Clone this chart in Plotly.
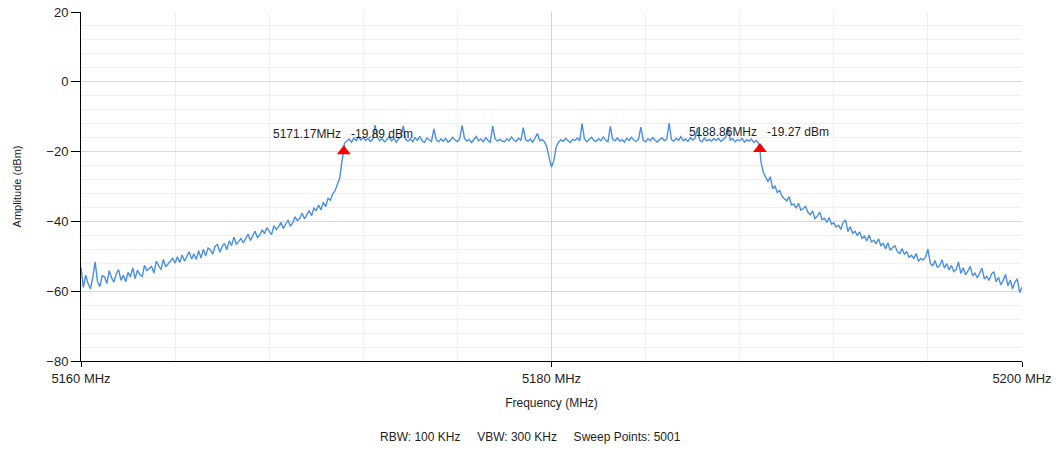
import plotly.graph_objects as go

# ---------------- data ----------------
start_mhz = 5160.0
step_mhz = 0.1

# amplitude (dBm) sampled every 0.1 MHz from 5160.0 to 5200.0
left_skirt = [
    -53.2, -58.9, -55.4, -57.8, -59.3, -56.1, -51.6, -57.2, -58.7, -55.6,   # 5160
    -55.9, -57.8, -54.1, -56.2, -57.4, -55.0, -53.8, -56.9, -55.4, -57.3,   # 5161
    -54.6, -55.9, -53.3, -56.4, -54.0, -55.2, -55.8, -52.6, -54.1, -53.5,   # 5162
    -52.9, -54.8, -51.4, -52.7, -53.8, -50.9, -53.0, -52.2, -51.3, -50.6,   # 5163
    -52.0, -50.1, -51.8, -49.6, -51.4, -50.2, -48.7, -50.8, -49.3, -50.9,   # 5164
    -48.4, -50.5, -48.0, -49.9, -47.6, -48.2, -49.4, -47.1, -46.6, -48.8,   # 5165
    -47.2, -46.3, -48.1, -45.6, -46.9, -44.5, -46.5, -45.8, -44.9, -46.2,   # 5166
    -45.1, -43.6, -45.5, -44.2, -42.8, -44.6, -43.9, -42.4, -43.5, -41.8,   # 5167
    -42.7, -43.8, -41.2, -42.4, -41.5, -40.3, -42.0, -40.9, -39.6, -41.4,   # 5168
    -40.4, -38.7, -39.8, -39.1, -37.6, -39.3, -38.2, -36.9, -38.4, -36.2,   # 5169
    -36.9, -35.3, -36.7, -34.5, -35.8, -33.4, -33.9, -32.1, -31.2, -29.6,   # 5170
    -27.5, -22.4,                                                           # 5171.0-5171.1
]
flat_top = [
    -17.6, -17.0, -16.4, -17.3, -16.1, -16.9, -15.8, -16.7,                 # 5171.2-5171.9
    -15.9, -16.8, -16.2, -17.1, -16.5, -12.4, -15.9, -16.9, -16.3, -17.2,   # 5172
    -16.6, -15.7, -16.9, -16.2, -17.3, -16.4, -15.8, -12.6, -16.5, -17.0,   # 5173
    -16.3, -17.2, -16.0, -16.8, -15.6, -16.9, -17.4, -16.1, -16.7, -17.1,   # 5174
    -13.5, -16.6, -17.2, -16.4, -17.0, -16.2, -17.3, -16.8, -15.9, -16.7,   # 5175
    -17.1, -16.3, -12.5, -16.2, -17.0, -16.5, -17.4, -16.6, -15.7, -16.9,   # 5176
    -16.4, -17.2, -16.0, -16.8, -17.3, -12.7, -16.3, -17.0, -16.5, -16.9,   # 5177
    -17.2, -16.3, -16.9, -15.8, -16.7, -17.1, -16.2, -16.8, -13.1, -16.6,   # 5178
    -17.0, -16.4, -17.3, -16.1, -14.8, -16.9, -16.5, -17.2, -18.6, -21.8,   # 5179
    -24.4, -22.6, -18.7, -17.3, -16.6, -17.1, -16.2, -16.9, -17.4, -16.5,   # 5180
    -16.8, -16.1, -16.9, -12.0, -16.4, -17.2, -16.6, -15.9, -16.8, -17.1,   # 5181
    -16.3, -16.9, -15.8, -16.7, -17.2, -12.8, -16.5, -16.9, -16.1, -17.0,   # 5182
    -16.6, -17.3, -16.2, -16.8, -15.9, -16.7, -17.1, -16.4, -13.0, -16.8,   # 5183
    -17.2, -16.3, -16.9, -16.0, -16.7, -17.3, -16.5, -16.1, -16.9, -16.4,   # 5184
    -11.8, -16.6, -17.0, -16.2, -16.8, -15.7, -16.9, -16.4, -17.1, -16.0,   # 5185
    -16.7, -16.2, -13.4, -16.8, -17.2, -16.1, -16.9, -16.5, -17.0, -16.3,   # 5186
    -16.8, -16.2, -17.1, -16.5, -15.9, -12.9, -16.7, -16.3, -17.2, -16.6,   # 5187
    -16.9, -16.2, -17.3, -16.6, -17.0, -16.4, -17.4, -16.8, -17.6,          # 5188.0-5188.8
]
right_skirt = [
    -22.8,                                                                  # 5188.9
    -25.9, -27.4, -28.6, -27.2, -30.6, -29.9, -31.7, -31.1, -32.8, -33.5,   # 5189
    -34.1, -32.9, -35.3, -35.0, -36.2, -34.8, -36.8, -36.3, -35.7, -37.4,   # 5190
    -38.1, -37.0, -39.2, -38.5, -37.3, -39.5, -39.1, -40.3, -38.9, -40.8,   # 5191
    -40.4, -41.6, -41.1, -42.3, -40.2, -39.6, -42.9, -41.5, -43.4, -42.8,   # 5192
    -44.1, -43.0, -44.9, -44.2, -45.6, -43.9, -45.9, -45.4, -46.4, -45.0,   # 5193
    -46.9, -46.3, -47.8, -46.1, -48.3, -47.5, -47.0, -48.6, -49.2, -47.8,   # 5194
    -49.5, -48.6, -50.3, -49.7, -50.6, -49.2, -51.4, -50.6, -51.1, -50.2,   # 5195
    -47.9, -51.9, -52.8, -51.2, -53.1, -52.7, -51.0, -53.4, -52.1, -53.9,   # 5196
    -52.6, -54.4, -53.8, -51.6, -54.9, -53.3, -55.3, -54.2, -52.9, -55.6,   # 5197
    -54.8, -56.2, -54.6, -53.4, -56.5, -55.7, -56.9, -55.1, -54.4, -57.3,   # 5198
    -56.0, -58.2, -56.9, -55.2, -58.5, -56.8, -59.3, -57.4, -56.5, -60.4,   # 5199
    -58.9,                                                                  # 5200.0
]

marker_freq_mhz = [5171.17, 5188.86]
marker_level_dbm = [-19.89, -19.27]
marker_freq_text = ["5171.17MHz", "5188.86MHz"]
marker_level_text = ["-19.89 dBm", "-19.27 dBm"]

x_tick_vals = [5160, 5180, 5200]
x_tick_text = ["5160 MHz", "5180 MHz", "5200 MHz"]
y_tick_vals = [20, 0, -20, -40, -60, -80]

footer_text = "RBW: 100 KHz\u00a0\u00a0\u00a0\u00a0\u00a0VBW: 300 KHz\u00a0\u00a0\u00a0\u00a0\u00a0Sweep Points: 5001"

# ---------------- build trace ----------------
levels = left_skirt + flat_top + right_skirt
assert len(levels) == 401, len(levels)
freqs = [round(start_mhz + step_mhz * i, 2) for i in range(len(levels))]
pts = sorted(list(zip(freqs, levels)) + list(zip(marker_freq_mhz, marker_level_dbm)))
trace_x = [p[0] for p in pts]
trace_y = [p[1] for p in pts]

FONT = "Liberation Sans, Arial, sans-serif"
TXT = "#1e1e1e"

fig = go.Figure()
fig.add_trace(go.Scatter(
    x=trace_x, y=trace_y, mode="lines",
    line=dict(color="#4a8fe6", width=1.4),
    hoverinfo="skip", showlegend=False,
))
fig.add_trace(go.Scatter(
    x=marker_freq_mhz, y=marker_level_dbm, mode="markers",
    marker=dict(symbol="triangle-up", size=12, color="#ff0000", line=dict(width=0)),
    showlegend=False, hoverinfo="skip",
))

for f, lv, ft, lt in zip(marker_freq_mhz, marker_level_dbm, marker_freq_text, marker_level_text):
    fig.add_annotation(x=f, y=lv, xref="x", yref="y", text=ft, showarrow=False,
                       xanchor="right", yanchor="middle", xshift=-1, yshift=17,
                       font=dict(family=FONT, size=12, color=TXT))
    fig.add_annotation(x=f, y=lv, xref="x", yref="y", text=lt, showarrow=False,
                       xanchor="left", yanchor="middle", xshift=5, yshift=17,
                       font=dict(family=FONT, size=12, color=TXT))

fig.add_annotation(x=(530 - 81) / 941, y=(361 - 437) / 349, xref="paper", yref="paper",
                   text=footer_text, showarrow=False, xanchor="center", yanchor="middle",
                   font=dict(family=FONT, size=12, color=TXT))

fig.update_layout(
    width=1059, height=450,
    margin=dict(l=81, r=37, t=12, b=89, autoexpand=False),
    paper_bgcolor="white", plot_bgcolor="white",
    font=dict(family=FONT, size=13, color=TXT),
    xaxis=dict(
        range=[5160, 5200], tickvals=x_tick_vals, ticktext=x_tick_text,
        showline=True, linecolor="black", linewidth=1,
        ticks="outside", ticklen=5, tickcolor="black",
        showgrid=True, gridcolor="#d4d4d4", gridwidth=1,
        minor=dict(dtick=4, tick0=5160, showgrid=True, gridcolor="#efefef", ticks=""),
        zeroline=False, tickfont=dict(size=13, color=TXT),
        title=dict(text="Frequency (MHz)", font=dict(size=12, color=TXT), standoff=14),
        fixedrange=True,
    ),
    yaxis=dict(
        range=[-80, 20], tickvals=y_tick_vals,
        showline=True, linecolor="black", linewidth=1,
        ticks="outside", ticklen=9, tickcolor="black",
        showgrid=True, gridcolor="#d9d9d9", gridwidth=1,
        minor=dict(dtick=4, tick0=-80, showgrid=True, gridcolor="#efefef", ticks=""),
        zeroline=False, tickfont=dict(size=13, color=TXT),
        title=dict(text="Amplitude (dBm)", font=dict(size=11, color=TXT), standoff=22),
        fixedrange=True,
    ),
)

fig.write_html("out.html")
